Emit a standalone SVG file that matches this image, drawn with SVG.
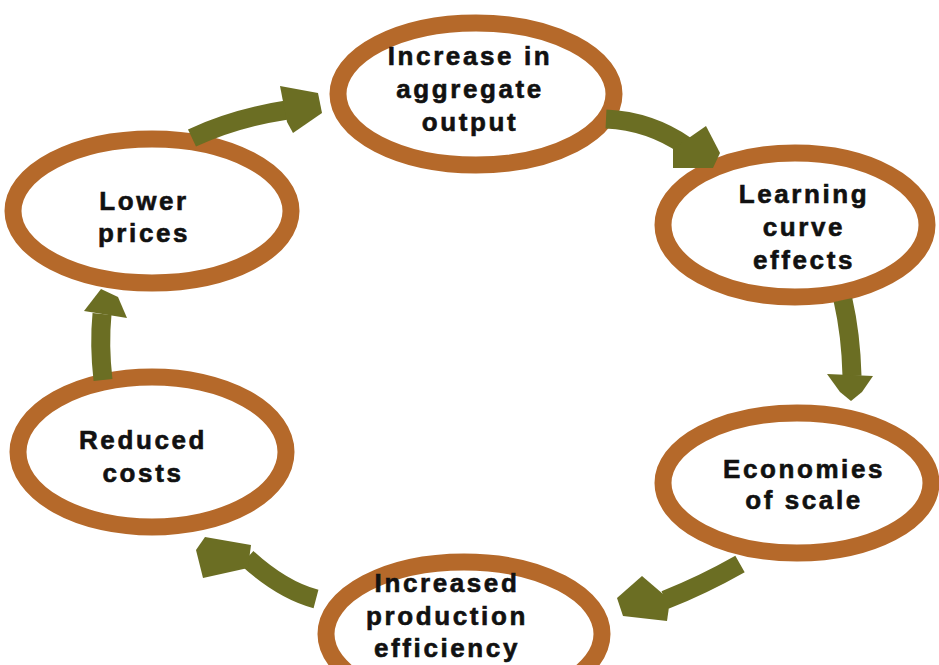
<svg xmlns="http://www.w3.org/2000/svg" width="939" height="665" viewBox="0 0 939 665">
  <defs>
    <style>
      .ring { fill: #ffffff; stroke: #B5692A; stroke-width: 17; }
      .label { font-family: "Liberation Sans", Arial, sans-serif; font-weight: bold; font-size: 26px; letter-spacing: 2.6px; fill: #111111; stroke: #111111; stroke-width: 0.6; text-anchor: middle; }
      .shaft { fill: none; stroke: #6B6E23; stroke-width: 19; stroke-linecap: butt; }
      .head { fill: #6B6E23; }
    </style>
  </defs>
  <rect width="939" height="665" fill="#ffffff"/>

  <g id="node-output">
    <ellipse class="ring" cx="476" cy="94" rx="138" ry="71"/>
    <text class="label" x="470" y="65">Increase in</text>
    <text class="label" x="470" y="98">aggregate</text>
    <text class="label" x="470" y="131">output</text>
  </g>

  <g id="node-learning">
    <ellipse class="ring" cx="795" cy="225" rx="132" ry="72"/>
    <text class="label" x="804" y="203">Learning</text>
    <text class="label" x="804" y="236">curve</text>
    <text class="label" x="804" y="269">effects</text>
  </g>

  <g id="node-scale">
    <ellipse class="ring" cx="797" cy="483" rx="134" ry="70"/>
    <text class="label" x="804" y="478">Economies</text>
    <text class="label" x="804" y="509">of scale</text>
  </g>

  <g id="node-efficiency">
    <ellipse class="ring" cx="464" cy="634" rx="138" ry="72"/>
    <text class="label" x="447" y="592">Increased</text>
    <text class="label" x="447" y="625">production</text>
    <text class="label" x="447" y="657">efficiency</text>
  </g>

  <g id="node-costs">
    <ellipse class="ring" cx="152" cy="452" rx="134" ry="75"/>
    <text class="label" x="143" y="449">Reduced</text>
    <text class="label" x="143" y="482">costs</text>
  </g>

  <g id="node-prices">
    <ellipse class="ring" cx="152" cy="211" rx="139" ry="72"/>
    <text class="label" x="144" y="210">Lower</text>
    <text class="label" x="144" y="242">prices</text>
  </g>

  <!-- connectors sit on top of the rings they leave and enter -->
  <g id="connectors">
    <path class="shaft" d="M192,138 Q235,118 287,110"/>
    <polygon class="head" points="280,86 318,93 322,113 293,133 287,122"/>

    <path class="shaft" d="M606,119 Q650,121 686,146"/>
    <polygon class="head" points="673,149 706,126 720,153 713,168 673,168"/>

    <path class="shaft" d="M843,300 Q851,335 852,376"/>
    <polygon class="head" points="827,374 873,376 862,392 851,401 840,392"/>

    <path class="shaft" d="M740,564 Q703,585 665,600"/>
    <polygon class="head" points="642,576 617,598 623,616 667,621 670,600"/>

    <path class="shaft" d="M316,599 Q282,590 247,558"/>
    <polygon class="head" points="205,537 251,545 248,568 203,578 196,550"/>

    <path class="shaft" d="M103,380 Q99,345 102,314"/>
    <polygon class="head" points="84,311 101,289 118,297 127,318"/>
  </g>
</svg>
